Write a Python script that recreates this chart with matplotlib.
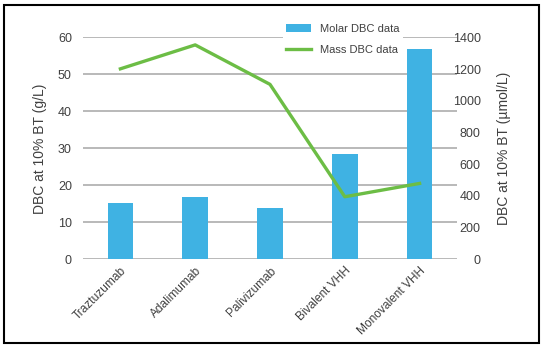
import matplotlib.pyplot as plt
from matplotlib.patches import Rectangle
import numpy as np

plt.rcParams['font.family'] = ['Liberation Sans', 'DejaVu Sans']

categories = ["Traztuzumab", "Adalimumab", "Palivizumab", "Bivalent VHH", "Monovalent VHH"]
molar_dbc = [15.2, 16.8, 13.9, 28.5, 56.8]
mass_dbc = [1202, 1353, 1104, 395, 479]

bar_color = "#3fb2e3"
line_color = "#6cbd45"
grid_color = "#a6a6a6"
text_color = "#404040"

fig = plt.figure(figsize=(5.46, 3.5), dpi=100)
ax = fig.add_axes([0.152, 0.259, 0.685, 0.634])
ax2 = ax.twinx()

x = np.arange(len(categories))
bars = ax.bar(x, molar_dbc, width=0.34, color=bar_color, label="Molar DBC data", zorder=3)
line, = ax2.plot(x, mass_dbc, color=line_color, lw=2.4, label="Mass DBC data", zorder=4)

ax.set_xlim(-0.5, len(categories) - 0.5)
ax.set_ylim(0, 60)
ax2.set_ylim(0, 1400)
ax.set_yticks(range(0, 61, 10))
ax2.set_yticks(range(0, 1401, 200))
ax.yaxis.grid(True, color=grid_color, lw=1.1, zorder=0)
ax.set_axisbelow(True)

for a in (ax, ax2):
    for s in a.spines.values():
        s.set_visible(False)
    a.tick_params(length=0, colors=text_color, labelsize=9)

ax.tick_params(axis='y', pad=8)
ax2.tick_params(axis='y', pad=17)
for t in ax2.get_yticklabels():
    t.set_ha('right')

ax.set_xticks(x)
ax.set_xticklabels(categories, rotation=45, ha='right', rotation_mode='anchor', fontsize=8.6, color=text_color)
ax.tick_params(axis='x', pad=4)

ax.set_ylabel("DBC at 10% BT (g/L)", fontsize=10, color=text_color, labelpad=8)
ax2.set_ylabel("DBC at 10% BT (\u00b5mol/L)", fontsize=10, color=text_color, labelpad=12)

leg = ax2.legend([bars, line], ["Molar DBC data", "Mass DBC data"], loc='upper left',
                 bbox_to_anchor=(0.52, 1.10), frameon=True, facecolor='white', edgecolor='none',
                 framealpha=1, fontsize=8, handlelength=2.2, borderpad=0.3, labelspacing=1.0,
                 handleheight=0.7)
leg.get_frame().set_boxstyle('square', pad=0)
for t in leg.get_texts():
    t.set_color(text_color)

fig.patches.append(Rectangle((0.0073, 0.02), 0.9797, 0.967, transform=fig.transFigure,
                             fill=False, edgecolor='black', lw=1.5))

fig.savefig("out.png", dpi=100)
